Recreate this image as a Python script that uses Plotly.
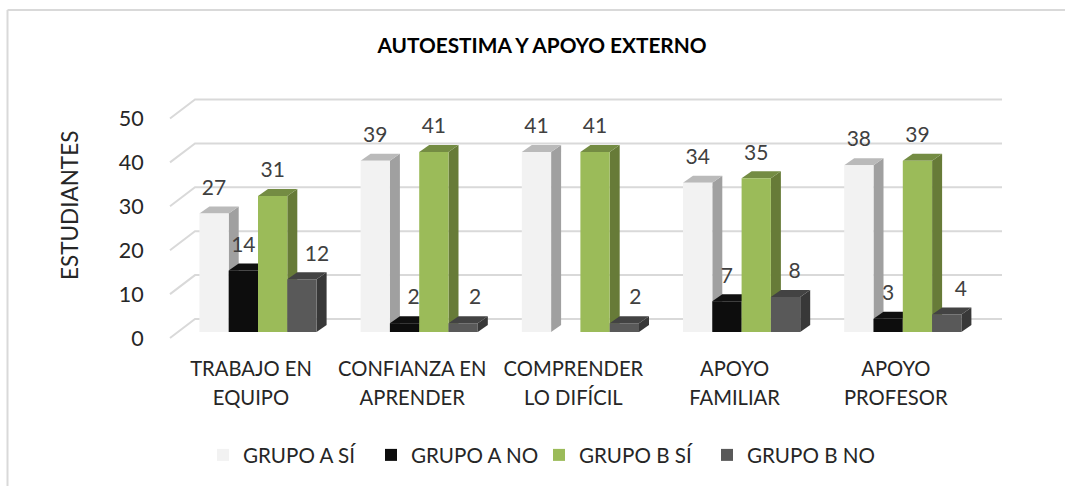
import plotly.graph_objects as go

# ---- data ----
categories_line1 = ["TRABAJO EN", "CONFIANZA EN", "COMPRENDER", "APOYO", "APOYO"]
categories_line2 = ["EQUIPO", "APRENDER", "LO DIFÍCIL", "FAMILIAR", "PROFESOR"]
series_names = ["GRUPO A SÍ", "GRUPO A NO", "GRUPO B SÍ", "GRUPO B NO"]
grupo_a_si = [27, 39, 41, 34, 38]
grupo_a_no = [14, 2, 0, 7, 3]
grupo_b_si = [31, 41, 41, 35, 39]
grupo_b_no = [12, 2, 2, 8, 4]
y_ticks = [0, 10, 20, 30, 40, 50]

# ---- styles ----
front_colors = ["#F2F2F2", "#0D0D0D", "#9BBB59", "#595959"]
side_colors = ["#A0A0A0", "#0A0A0A", "#677B38", "#383838"]
top_colors = ["#BABABA", "#101010", "#748C43", "#434343"]
GRID = "#D9D9D9"
TEXT = "#262626"
LABEL = "#404040"
FONT = "Lato"

W, H = 1065, 486
L, R, T, B = 152, 1010, 90, 340
PX_X = 161.2          # pixels per category
PX_Y = 4.39           # pixels per student
X0 = 258.0            # pixel of first group centre
Y0 = 332.0            # pixel of bar base
xr = [(L - X0) / PX_X, (R - X0) / PX_X]
yr = [(Y0 - B) / PX_Y, (Y0 - T) / PX_Y]
BW = 29.3 / PX_X
DX, DY = 10 / PX_X, 7 / PX_Y
WALL_F_X, WALL_F_Y = (170 - X0) / PX_X, (Y0 - 338) / PX_Y
WALL_B_X, WALL_B_Y = (195 - X0) / PX_X, (Y0 - 319) / PX_Y
WALL_R_X = (1002 - X0) / PX_X
LABEL_DY = 24 / PX_Y
XTICK_SHIFT = -7 / PX_X

# per-point horizontal nudges of the data labels, in pixels
label_nudge = [[0, 0, 0, 0, 0], [0, 9, 0, 0, 0], [0, 0, 0, 0, 0], [15, 12, 11, 9, 14]]

series = [grupo_a_si, grupo_a_no, grupo_b_si, grupo_b_no]
fig = go.Figure()

# walls: gridlines
gx, gy = [], []
for v in y_ticks:
    gx += [WALL_F_X, WALL_B_X, WALL_R_X, None]
    gy += [v + WALL_F_Y, v + WALL_B_Y, v + WALL_B_Y, None]
fig.add_trace(go.Scatter(x=gx, y=gy, mode="lines", line=dict(color=GRID, width=2),
                         showlegend=False, hoverinfo="skip", xaxis="x", yaxis="y"))

# side and top faces on the lower subplot
n = len(categories_line1)
for s, vals in enumerate(series):
    for i, v in enumerate(vals):
        if v == 0:
            continue
        left = i + (s - 2) * BW
        right = left + BW
        fig.add_trace(go.Scatter(
            x=[right, right + DX, right + DX, right, right],
            y=[0, DY, v + DY, v, 0], mode="lines", fill="toself", fillcolor=side_colors[s],
            line=dict(width=0), showlegend=False, hoverinfo="skip", xaxis="x", yaxis="y"))
        fig.add_trace(go.Scatter(
            x=[left, left + DX, right + DX, right, left],
            y=[v, v + DY, v + DY, v, v], mode="lines", fill="toself", fillcolor=top_colors[s],
            line=dict(width=0), showlegend=False, hoverinfo="skip", xaxis="x", yaxis="y"))

# front faces on the overlay subplot
for s, vals in enumerate(series):
    fig.add_trace(go.Bar(
        x=[i + (s - 1.5) * BW for i in range(n)], y=vals, width=BW, name=series_names[s],
        marker=dict(color=front_colors[s], line=dict(width=0)), xaxis="x2", yaxis="y2"))

# data labels
for s, vals in enumerate(series):
    fig.add_trace(go.Scatter(
        x=[i + (s - 1.5) * BW + label_nudge[s][i] / PX_X for i in range(n)],
        y=[v + LABEL_DY for v in vals],
        text=[str(v) if v else "" for v in vals],
        mode="text", textposition="middle center",
        textfont=dict(family=FONT, size=21, color=LABEL),
        showlegend=False, hoverinfo="skip", xaxis="x2", yaxis="y2"))

tickvals = [i + XTICK_SHIFT for i in range(n)]
fig.update_layout(
    width=W, height=H, autosize=False,
    margin=dict(l=L, r=W - R, t=T, b=H - B, autoexpand=False),
    paper_bgcolor="white", plot_bgcolor="white",
    barmode="overlay", font=dict(family=FONT, color=TEXT, size=20),
    title=dict(text="<b>AUTOESTIMA Y APOYO EXTERNO</b>", x=542 / W, xref="container", xanchor="center",
               y=1 - 46 / H, yref="container", yanchor="middle",
               font=dict(family=FONT, size=20.8, color="#000000")),
    xaxis=dict(range=xr, tickmode="array", tickvals=tickvals, ticktext=categories_line1,
               showgrid=False, zeroline=False, showline=False, ticks="outside", ticklen=11,
               tickcolor="rgba(0,0,0,0)", tickfont=dict(family=FONT, size=20.2, color=TEXT)),
    xaxis2=dict(range=xr, overlaying="x", anchor="y2", tickmode="array", tickvals=tickvals,
                ticktext=categories_line2, showgrid=False, zeroline=False, showline=False,
                ticks="outside", ticklen=40, tickcolor="rgba(0,0,0,0)", side="bottom",
                tickfont=dict(family=FONT, size=20.2, color=TEXT)),
    yaxis=dict(range=yr, tickmode="array", tickvals=[v + WALL_F_Y for v in y_ticks],
               ticktext=[str(v) for v in y_ticks], showgrid=False, zeroline=False, showline=False,
               ticks="outside", ticklen=3, tickcolor="rgba(0,0,0,0)",
               tickfont=dict(family=FONT, size=21.5, color=TEXT)),
    yaxis2=dict(range=yr, overlaying="y", anchor="x2", visible=False),
    legend=dict(orientation="h", x=(203 - L) / (R - L), xanchor="left", y=(B - 455) / (B - T), yanchor="middle",
                entrywidth=123, entrywidthmode="pixels",
                font=dict(family=FONT, size=20.6, color=TEXT), bgcolor="rgba(0,0,0,0)"),
    annotations=[dict(text="ESTUDIANTES", textangle=-90, xref="paper", yref="paper", showarrow=False,
                      x=(69 - L) / (R - L), y=(B - 206) / (B - T), xanchor="center", yanchor="middle",
                      font=dict(family=FONT, size=22.5, color=TEXT))],
    shapes=[
        dict(type="line", xref="paper", yref="paper", x0=(7.5 - L) / (R - L), x1=(7.5 - L) / (R - L),
             y0=(B - 10) / (B - T), y1=(B - H) / (B - T), line=dict(color=GRID, width=2)),
        dict(type="line", xref="paper", yref="paper", x0=(7.5 - L) / (R - L), x1=(W - L) / (R - L),
             y0=(B - 10) / (B - T), y1=(B - 10) / (B - T), line=dict(color=GRID, width=2)),
    ],
)

fig.write_html("out.html", config={"displayModeBar": False},
               post_script="document.body.style.margin='0';document.body.style.overflow='hidden';")
